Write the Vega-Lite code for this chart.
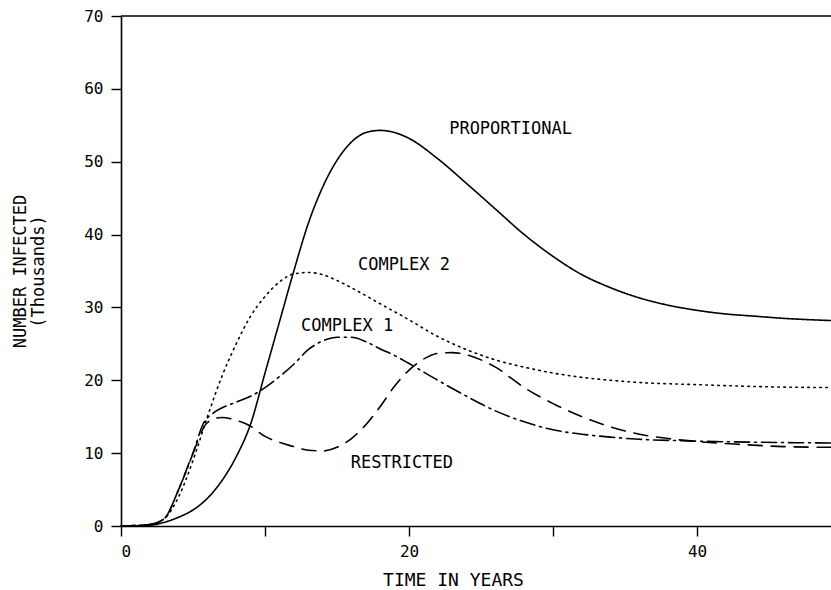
{
  "$schema": "https://vega.github.io/schema/vega-lite/v6.json",
  "autosize": {"type": "none"},
  "width": 710,
  "height": 510,
  "padding": {"left": 121, "top": 16, "right": 0, "bottom": 64},
  "background": "white",
  "config": {
    "view": {"stroke": null},
    "font": "DejaVu Sans Mono",
    "axis": {"domainColor": "black", "tickColor": "black", "labelColor": "black", "titleColor": "black", "grid": false, "domainWidth": 1.6, "tickWidth": 1.4, "labelFont": "DejaVu Sans Mono", "titleFont": "DejaVu Sans Mono", "labelFontSize": 16, "titleFontSize": 17, "titleFontWeight": "normal"}
  },
  "datasets": {
    "curves": [
      {"t": 0, "v": 0, "s": "Proportional"},
      {"t": 2, "v": 0.1, "s": "Proportional"},
      {"t": 3, "v": 0.5, "s": "Proportional"},
      {"t": 4, "v": 1.2, "s": "Proportional"},
      {"t": 5, "v": 2.2, "s": "Proportional"},
      {"t": 6, "v": 3.8, "s": "Proportional"},
      {"t": 7, "v": 6.2, "s": "Proportional"},
      {"t": 8, "v": 9.5, "s": "Proportional"},
      {"t": 9, "v": 14, "s": "Proportional"},
      {"t": 10, "v": 21, "s": "Proportional"},
      {"t": 11, "v": 28, "s": "Proportional"},
      {"t": 12, "v": 35, "s": "Proportional"},
      {"t": 13, "v": 41.5, "s": "Proportional"},
      {"t": 14, "v": 46.5, "s": "Proportional"},
      {"t": 15, "v": 50.2, "s": "Proportional"},
      {"t": 16, "v": 52.7, "s": "Proportional"},
      {"t": 17, "v": 54, "s": "Proportional"},
      {"t": 18, "v": 54.3, "s": "Proportional"},
      {"t": 19, "v": 54, "s": "Proportional"},
      {"t": 20, "v": 53.2, "s": "Proportional"},
      {"t": 22, "v": 50.4, "s": "Proportional"},
      {"t": 24, "v": 47, "s": "Proportional"},
      {"t": 26, "v": 43.5, "s": "Proportional"},
      {"t": 28, "v": 40, "s": "Proportional"},
      {"t": 30, "v": 37, "s": "Proportional"},
      {"t": 32, "v": 34.5, "s": "Proportional"},
      {"t": 34, "v": 32.7, "s": "Proportional"},
      {"t": 36, "v": 31.3, "s": "Proportional"},
      {"t": 38, "v": 30.3, "s": "Proportional"},
      {"t": 40, "v": 29.6, "s": "Proportional"},
      {"t": 42, "v": 29.1, "s": "Proportional"},
      {"t": 44, "v": 28.8, "s": "Proportional"},
      {"t": 46, "v": 28.5, "s": "Proportional"},
      {"t": 48, "v": 28.3, "s": "Proportional"},
      {"t": 49.3, "v": 28.2, "s": "Proportional"},

      {"t": 0, "v": 0, "s": "Complex 2"},
      {"t": 2, "v": 0.2, "s": "Complex 2"},
      {"t": 3, "v": 1, "s": "Complex 2"},
      {"t": 4, "v": 4, "s": "Complex 2"},
      {"t": 5, "v": 9, "s": "Complex 2"},
      {"t": 6, "v": 15, "s": "Complex 2"},
      {"t": 7, "v": 20.5, "s": "Complex 2"},
      {"t": 8, "v": 25, "s": "Complex 2"},
      {"t": 9, "v": 28.8, "s": "Complex 2"},
      {"t": 10, "v": 31.5, "s": "Complex 2"},
      {"t": 11, "v": 33.5, "s": "Complex 2"},
      {"t": 12, "v": 34.6, "s": "Complex 2"},
      {"t": 13, "v": 34.8, "s": "Complex 2"},
      {"t": 14, "v": 34.5, "s": "Complex 2"},
      {"t": 15, "v": 33.7, "s": "Complex 2"},
      {"t": 16, "v": 32.7, "s": "Complex 2"},
      {"t": 18, "v": 30.5, "s": "Complex 2"},
      {"t": 20, "v": 28.3, "s": "Complex 2"},
      {"t": 22, "v": 26, "s": "Complex 2"},
      {"t": 24, "v": 24.2, "s": "Complex 2"},
      {"t": 26, "v": 22.8, "s": "Complex 2"},
      {"t": 28, "v": 21.8, "s": "Complex 2"},
      {"t": 30, "v": 21, "s": "Complex 2"},
      {"t": 32, "v": 20.4, "s": "Complex 2"},
      {"t": 34, "v": 20, "s": "Complex 2"},
      {"t": 36, "v": 19.7, "s": "Complex 2"},
      {"t": 40, "v": 19.4, "s": "Complex 2"},
      {"t": 45, "v": 19.1, "s": "Complex 2"},
      {"t": 49.3, "v": 19, "s": "Complex 2"},

      {"t": 0, "v": 0, "s": "Complex 1"},
      {"t": 2, "v": 0.2, "s": "Complex 1"},
      {"t": 3, "v": 1, "s": "Complex 1"},
      {"t": 4, "v": 5, "s": "Complex 1"},
      {"t": 5, "v": 10, "s": "Complex 1"},
      {"t": 5.7, "v": 14, "s": "Complex 1"},
      {"t": 6.4, "v": 15.5, "s": "Complex 1"},
      {"t": 7, "v": 16.2, "s": "Complex 1"},
      {"t": 8, "v": 17, "s": "Complex 1"},
      {"t": 9, "v": 17.8, "s": "Complex 1"},
      {"t": 10, "v": 19, "s": "Complex 1"},
      {"t": 11, "v": 20.5, "s": "Complex 1"},
      {"t": 12, "v": 22.2, "s": "Complex 1"},
      {"t": 13, "v": 24.2, "s": "Complex 1"},
      {"t": 14, "v": 25.4, "s": "Complex 1"},
      {"t": 15, "v": 25.9, "s": "Complex 1"},
      {"t": 16, "v": 25.9, "s": "Complex 1"},
      {"t": 17, "v": 25.3, "s": "Complex 1"},
      {"t": 18, "v": 24.3, "s": "Complex 1"},
      {"t": 19, "v": 23.4, "s": "Complex 1"},
      {"t": 20, "v": 22.3, "s": "Complex 1"},
      {"t": 22, "v": 20, "s": "Complex 1"},
      {"t": 24, "v": 17.8, "s": "Complex 1"},
      {"t": 26, "v": 15.8, "s": "Complex 1"},
      {"t": 28, "v": 14.3, "s": "Complex 1"},
      {"t": 30, "v": 13.2, "s": "Complex 1"},
      {"t": 32, "v": 12.6, "s": "Complex 1"},
      {"t": 34, "v": 12.2, "s": "Complex 1"},
      {"t": 36, "v": 11.9, "s": "Complex 1"},
      {"t": 39, "v": 11.7, "s": "Complex 1"},
      {"t": 44, "v": 11.5, "s": "Complex 1"},
      {"t": 49.3, "v": 11.4, "s": "Complex 1"},

      {"t": 0, "v": 0, "s": "Restricted"},
      {"t": 2, "v": 0.2, "s": "Restricted"},
      {"t": 3, "v": 1, "s": "Restricted"},
      {"t": 4, "v": 5, "s": "Restricted"},
      {"t": 5, "v": 10, "s": "Restricted"},
      {"t": 6, "v": 14.2, "s": "Restricted"},
      {"t": 7, "v": 14.9, "s": "Restricted"},
      {"t": 8, "v": 14.5, "s": "Restricted"},
      {"t": 9, "v": 13.7, "s": "Restricted"},
      {"t": 10, "v": 12.3, "s": "Restricted"},
      {"t": 11, "v": 11.5, "s": "Restricted"},
      {"t": 12, "v": 10.9, "s": "Restricted"},
      {"t": 13, "v": 10.4, "s": "Restricted"},
      {"t": 14, "v": 10.3, "s": "Restricted"},
      {"t": 15, "v": 10.8, "s": "Restricted"},
      {"t": 16, "v": 12, "s": "Restricted"},
      {"t": 17, "v": 13.9, "s": "Restricted"},
      {"t": 18, "v": 16.4, "s": "Restricted"},
      {"t": 19, "v": 19.2, "s": "Restricted"},
      {"t": 20, "v": 21.4, "s": "Restricted"},
      {"t": 21, "v": 22.9, "s": "Restricted"},
      {"t": 22, "v": 23.7, "s": "Restricted"},
      {"t": 23, "v": 23.8, "s": "Restricted"},
      {"t": 24, "v": 23.5, "s": "Restricted"},
      {"t": 25, "v": 22.8, "s": "Restricted"},
      {"t": 26, "v": 21.8, "s": "Restricted"},
      {"t": 28, "v": 19, "s": "Restricted"},
      {"t": 30, "v": 16.8, "s": "Restricted"},
      {"t": 32, "v": 15, "s": "Restricted"},
      {"t": 34, "v": 13.6, "s": "Restricted"},
      {"t": 36, "v": 12.6, "s": "Restricted"},
      {"t": 38, "v": 12, "s": "Restricted"},
      {"t": 40, "v": 11.6, "s": "Restricted"},
      {"t": 43, "v": 11.2, "s": "Restricted"},
      {"t": 46, "v": 10.9, "s": "Restricted"},
      {"t": 49.3, "v": 10.8, "s": "Restricted"}
    ],
    "labels": [
      {"t": 27.05, "v": 54.5, "label": "PROPORTIONAL"},
      {"t": 19.65, "v": 35.8, "label": "COMPLEX 2"},
      {"t": 15.7, "v": 27.4, "label": "COMPLEX 1"},
      {"t": 19.5, "v": 8.6, "label": "RESTRICTED"}
    ]
  },
  "layer": [
    {
      "data": {"name": "curves"},
      "mark": {"type": "line", "color": "black", "strokeWidth": 1.6, "interpolate": "monotone", "strokeCap": "round"},
      "encoding": {
        "x": {"field": "t", "type": "quantitative", "scale": {"domain": [0, 49.3], "nice": false},
          "axis": {"values": [0, 10, 20, 30, 40], "labelExpr": "datum.value % 20 == 0 ? datum.label : ''", "tickSize": 10, "labelPadding": 7, "title": "TIME IN YEARS", "titlePadding": 12, "titleX": 332, "titleFontSize": 18}},
        "y": {"field": "v", "type": "quantitative", "scale": {"domain": [0, 70], "nice": false},
          "axis": {"values": [0, 10, 20, 30, 40, 50, 60, 70], "tickSize": 10, "labelPadding": 8, "title": ["NUMBER INFECTED", "(Thousands)"], "titlePadding": 36, "titleLineHeight": 18}},
        "detail": {"field": "s"},
        "strokeDash": {"field": "s", "type": "nominal", "legend": null,
          "scale": {"domain": ["Proportional", "Complex 2", "Complex 1", "Restricted"], "range": [[1, 0], [1.5, 4.5], [15, 5, 2, 5], [14, 9]]}}
      }
    },
    {
      "data": {"values": [{"v": 70}]},
      "mark": {"type": "rule", "color": "black", "strokeWidth": 1.6},
      "encoding": {"y": {"field": "v", "type": "quantitative"}}
    },
    {
      "data": {"name": "labels"},
      "mark": {"type": "text", "align": "center", "baseline": "middle", "fontSize": 17, "font": "DejaVu Sans Mono", "color": "black"},
      "encoding": {
        "x": {"field": "t", "type": "quantitative"},
        "y": {"field": "v", "type": "quantitative"},
        "text": {"field": "label"}
      }
    }
  ]
}
